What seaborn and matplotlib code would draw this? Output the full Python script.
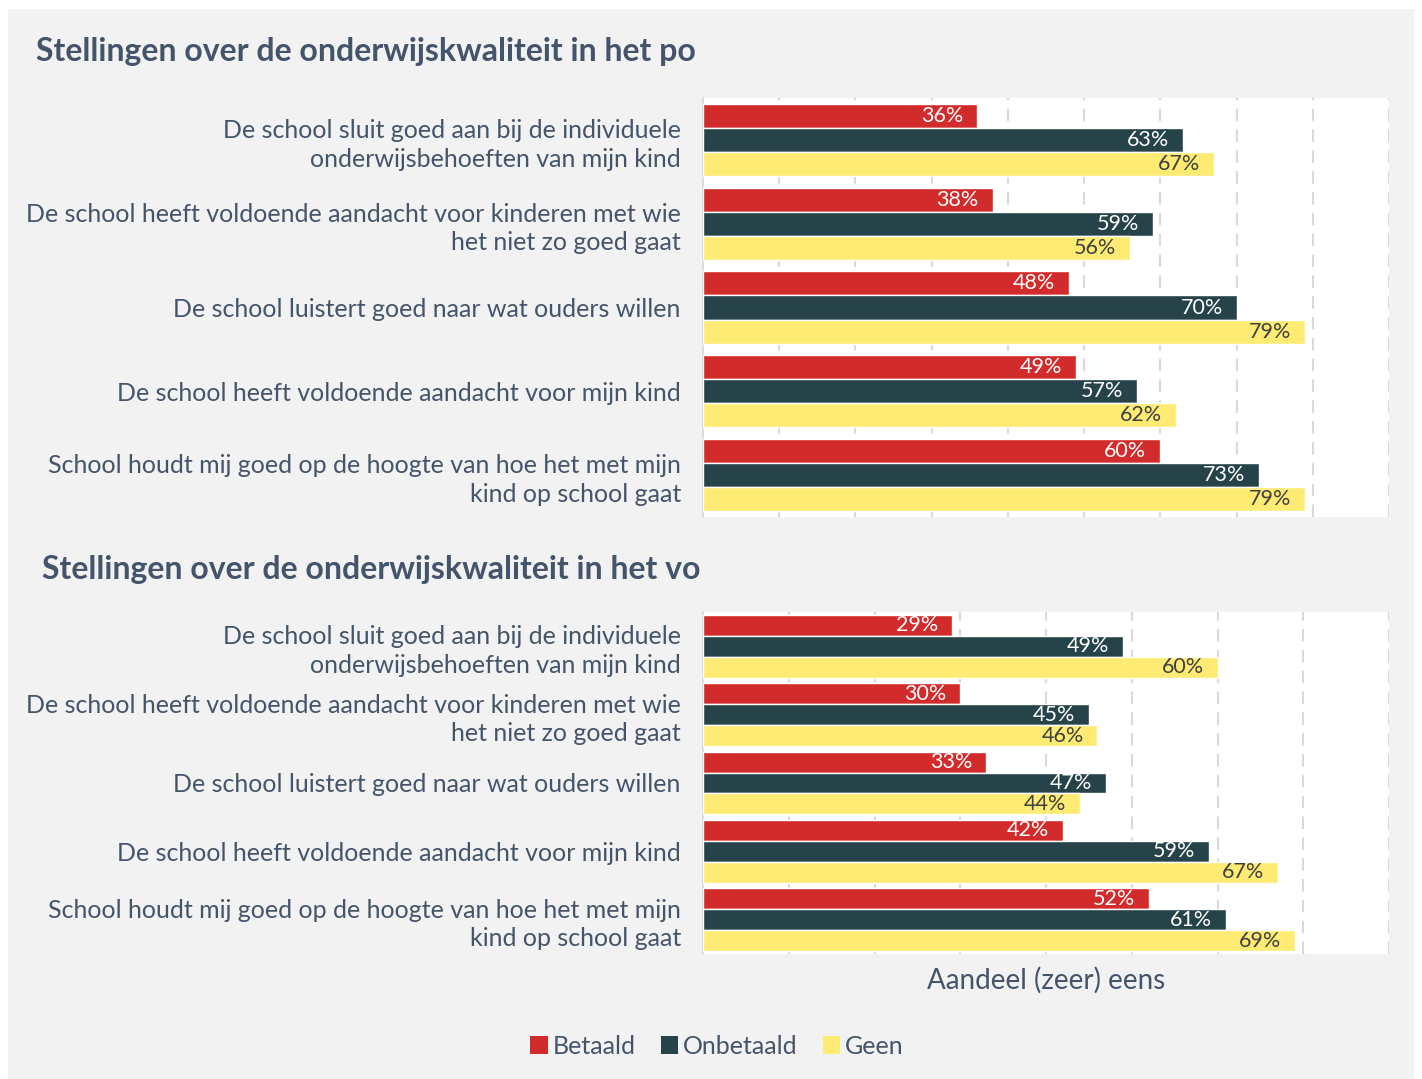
import pandas as pd
import matplotlib.pyplot as plt
import seaborn as sns
from matplotlib.patches import Patch, Rectangle

# Data
stellingen = [
    "De school sluit goed aan bij de individuele\nonderwijsbehoeften van mijn kind",
    "De school heeft voldoende aandacht voor kinderen met wie\nhet niet zo goed gaat",
    "De school luistert goed naar wat ouders willen",
    "De school heeft voldoende aandacht voor mijn kind",
    "School houdt mij goed op de hoogte van hoe het met mijn\nkind op school gaat",
]
groepen = ["Betaald", "Onbetaald", "Geen"]

po_betaald = [36, 38, 48, 49, 60]
po_onbetaald = [63, 59, 70, 57, 73]
po_geen = [67, 56, 79, 62, 79]

vo_betaald = [29, 30, 33, 42, 52]
vo_onbetaald = [49, 45, 47, 59, 61]
vo_geen = [60, 46, 44, 67, 69]

kleuren = ["#d22b2b", "#264349", "#fdeb73"]
label_kleuren = ["white", "white", "#404040"]
tekst = "#44546a"

sns.set_theme(style="white")
plt.rcParams['font.family'] = ['Lato', 'DejaVu Sans']


def long_df(b, o, g):
    rows = []
    for naam, vals in zip(groepen, [b, o, g]):
        for s, v in zip(stellingen, vals):
            rows.append({"stelling": s, "groep": naam, "waarde": v})
    return pd.DataFrame(rows)


fig = plt.figure(figsize=(14.22, 10.79), dpi=100, facecolor="white")
fig.patches.append(Rectangle((8 / 1422, 0), 1 - 16 / 1422, 1 - 9 / 1079,
                             transform=fig.transFigure, facecolor="#f2f2f2",
                             edgecolor="none", zorder=-10))

W, H = 1422, 1079
ax_po = fig.add_axes([703 / W, 1 - 517 / H, 686 / W, 419 / H])
ax_vo = fig.add_axes([703 / W, 1 - 954 / H, 686 / W, 342 / H])


def draw(ax, df, xmax, width):
    sns.barplot(data=df, y="stelling", x="waarde", hue="groep", hue_order=groepen,
                palette=kleuren, orient="h", width=width, ax=ax, legend=False,
                saturation=1, errorbar=None, zorder=3)
    ax.set_xlim(0, xmax)
    ax.set_ylim(4.5, -0.5)
    ax.set_xticks(range(10, xmax + 1, 10))
    ax.set_xticklabels([])
    ax.set_xlabel("")
    ax.set_ylabel("")
    ax.grid(axis="x", color="#d9d9d9", linestyle=(0, (6, 4)), linewidth=1.5, zorder=0)
    ax.grid(axis="y", visible=False)
    ax.tick_params(axis="both", length=0)
    ax.tick_params(axis="y", pad=16)
    for lab in ax.get_yticklabels():
        lab.set_color(tekst)
        lab.set_fontsize(18)
        lab.set_linespacing(1.3)
    for s in ["top", "right", "bottom"]:
        ax.spines[s].set_visible(False)
    ax.spines["left"].set_color("#d9d9d9")
    ax.set_facecolor("white")
    for cont, kleur in zip(ax.containers, label_kleuren):
        for p in cont:
            w = p.get_width()
            ax.annotate(f"{w:.0f}%", (w, p.get_y() + p.get_height() / 2),
                        xytext=(-10, 0), textcoords="offset points",
                        ha="right", va="center", color=kleur, fontsize=15.5, zorder=5)


draw(ax_po, long_df(po_betaald, po_onbetaald, po_geen), 90, 0.86)
draw(ax_vo, long_df(vo_betaald, vo_onbetaald, vo_geen), 80, 0.92)

ax_vo.set_xlabel("Aandeel (zeer) eens", color=tekst, fontsize=20, labelpad=6)

fig.text(36 / W, 1 - 51 / H, "Stellingen over de onderwijskwaliteit in het po",
         fontsize=23, fontweight="bold", color=tekst, va="center", ha="left")
fig.text(42 / W, 1 - 569 / H, "Stellingen over de onderwijskwaliteit in het vo",
         fontsize=23, fontweight="bold", color=tekst, va="center", ha="left")

handles = [Patch(facecolor=c, edgecolor="none", label=g) for c, g in zip(kleuren, groepen)]
leg = fig.legend(handles=handles, loc="center", bbox_to_anchor=(717 / W, 1 - 1046 / H),
                 ncol=3, frameon=False, fontsize=18, handlelength=0.7, handleheight=0.7,
                 handletextpad=0.2, columnspacing=1.0)
for t in leg.get_texts():
    t.set_color(tekst)

fig.savefig("out.png", dpi=100, facecolor=fig.get_facecolor())
